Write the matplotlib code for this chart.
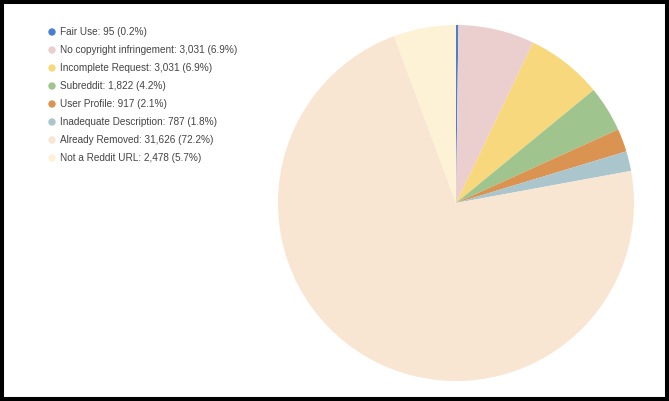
import matplotlib
matplotlib.use("Agg")
import matplotlib.pyplot as plt
from matplotlib.patches import Rectangle

categories = ["Fair Use", "No copyright infringement", "Incomplete Request", "Subreddit",
              "User Profile", "Inadequate Description", "Already Removed", "Not a Reddit URL"]
values = [95, 3031, 3031, 1822, 917, 787, 31626, 2478]
percents = ["0.2%", "6.9%", "6.9%", "4.2%", "2.1%", "1.8%", "72.2%", "5.7%"]
colors = ["#4a7fd0", "#ebcfcf", "#f7d87c", "#a0c48e", "#da9350", "#abc5cd", "#f8e5d2", "#fdf2d6"]

plt.rcParams['font.family'] = ['Liberation Sans', 'DejaVu Sans']

W, H = 669, 401
fig = plt.figure(figsize=(W/100, H/100), dpi=100)

cx, cy, r = 456, 203, 178
ax = fig.add_axes([(cx - r)/W, (H - cy - r)/H, 2*r/W, 2*r/H])
ax.pie(values, colors=colors, startangle=90, counterclock=False,
       wedgeprops=dict(linewidth=0))
ax.set_xlim(-1, 1)
ax.set_ylim(-1, 1)
ax.set_aspect('equal')
ax.axis('off')

# legend
x0, y0, dy = 52, 32, 18
for i, (c, v, p, col) in enumerate(zip(categories, values, percents, colors)):
    y = y0 + i*dy
    fig.patches.append(matplotlib.patches.Ellipse(((x0)/W, 1 - y/H), 6/W, 6/H,
                                                  transform=fig.transFigure, color=col))
    fig.text((x0 + 8)/W, 1 - y/H, f"{c}: {v:,} ({p})", fontsize=7.2, color="#444444",
             va="center", ha="left")

# frame
fig.patches.append(Rectangle((0, 0), 1, 1, transform=fig.transFigure, fill=False,
                             edgecolor="black", linewidth=5.8))

fig.savefig("out.png", dpi=100)
